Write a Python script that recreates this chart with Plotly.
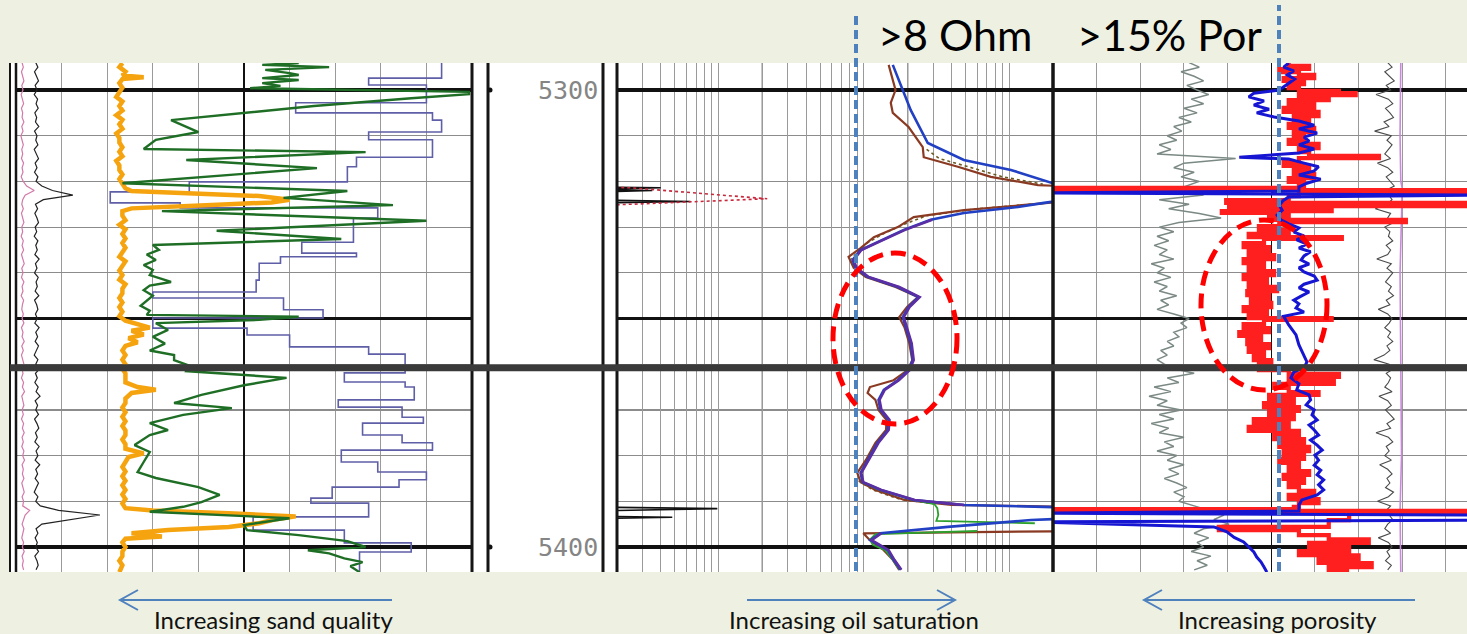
import math
import plotly.graph_objects as go

W, H = 1467, 634


def px(x):
    return x / W


def py(y):
    return 1 - y / H


# ---------------------------------------------------------------- DATA
DEPTH_1FT = list(range(5294, 5406))

# Track 1 (API-like units, 0-150)
pink_val = [2.0, 2.4, 1.8, 2.2, 2.6, 1.9, 2.3, 1.7, 2.1, 2.5,
            1.8, 2.2, 2.0, 2.6, 1.9, 2.3, 1.6, 2.1, 2.4, 1.9,
            2.2, 1.8, 2.5, 2.0, 2.3, 1.7, 2.4, 3.5, 6.0, 3.0,
            2.2, 1.9, 2.4, 1.8, 2.1, 2.6, 1.9, 2.2, 1.7, 2.4,
            2.0, 2.5, 1.8, 2.2, 2.7, 1.9, 2.3, 1.8, 2.6, 2.0,
            2.3, 1.7, 2.5, 2.1, 1.9, 2.4, 2.0, 2.6, 1.8, 2.3,
            2.0, 2.7, 1.9, 2.4, 1.8, 2.2, 2.6, 2.0, 2.3, 1.8,
            2.5, 2.1, 2.8, 1.9, 2.3, 2.6, 2.0, 2.4, 1.8, 2.5,
            2.1, 2.7, 2.0, 2.4, 1.9, 2.6, 2.2, 2.8, 2.0, 2.4,
            2.1, 2.6, 1.9, 2.3, 2.7, 2.0, 2.5, 2.2, 4.5, 3.0,
            2.4, 2.0, 2.6, 2.2, 1.9, 2.5, 2.1, 2.7, 2.0, 2.4,
            2.1, 2.5]

black1_val = [6.5, 7.2, 6.1, 6.8, 7.4, 6.3, 6.9, 6.0, 7.1, 6.6,
              7.3, 6.2, 6.8, 6.4, 7.5, 6.1, 6.9, 6.5, 7.2, 6.0,
              6.8, 7.4, 6.3, 6.9, 6.1, 7.2, 6.6, 8.5, 12.0, 18.7,
              9.0, 6.4, 7.1, 6.2, 6.9, 7.4, 6.3, 6.8, 6.0, 7.2,
              6.5, 7.0, 6.2, 7.6, 6.4, 6.9, 6.1, 7.3, 6.6, 7.0,
              6.3, 7.5, 6.1, 6.8, 7.2, 6.4, 7.0, 6.2, 7.6, 6.5,
              7.1, 6.3, 7.4, 6.6, 6.0, 7.2, 6.5, 7.8, 6.4, 7.0,
              6.2, 7.3, 6.6, 7.9, 6.3, 7.1, 6.5, 7.4, 6.1, 6.9,
              7.5, 6.4, 7.0, 6.2, 7.6, 6.6, 7.2, 6.3, 7.8, 6.5,
              7.1, 6.3, 7.4, 6.7, 6.0, 7.2, 6.5, 8.0, 14.0, 27.6,
              18.0, 8.5, 6.6, 7.2, 6.3, 7.0, 6.5, 7.4, 6.2, 6.9,
              7.3, 6.6]

orange_depth = [5294.1, 5295.0, 5296.0, 5296.8, 5297.2, 5297.6, 5298.5, 5299.5, 5300.5, 5301.5,
                5302.5, 5303.5, 5304.5, 5305.5, 5306.5, 5307.5, 5308.5, 5309.5, 5310.5, 5311.5,
                5312.5, 5313.5, 5314.5, 5315.5, 5316.5, 5317.5, 5318.5, 5319.5, 5320.5, 5321.5,
                5322.1, 5322.6, 5323.2, 5324.0, 5324.6, 5325.0, 5325.5, 5325.9, 5326.5, 5327.5,
                5328.5, 5329.5, 5330.5, 5331.5, 5332.5, 5333.5, 5334.5, 5335.5, 5336.5, 5337.5,
                5338.5, 5339.5, 5340.5, 5341.5, 5342.5, 5343.5, 5344.5, 5345.5, 5346.5, 5347.5,
                5348.5, 5349.5, 5350.5, 5351.3, 5352.0, 5352.7, 5353.5, 5354.3, 5355.2, 5356.0,
                5357.0, 5358.0, 5359.0, 5360.0, 5361.0, 5362.0, 5363.0, 5364.0, 5365.0, 5365.6,
                5366.3, 5367.5, 5368.5, 5369.5, 5370.5, 5371.5, 5372.5, 5373.5, 5374.5, 5375.5,
                5376.5, 5377.5, 5378.5, 5379.5, 5380.3, 5381.5, 5382.5, 5383.5, 5384.5, 5385.5,
                5386.5, 5387.5, 5388.5, 5389.5, 5390.5, 5391.5, 5392.0, 5392.6, 5393.3, 5394.0,
                5394.8, 5395.6, 5396.3, 5397.0, 5397.7, 5398.2, 5399.0, 5400.0, 5401.0, 5402.0,
                5403.0, 5404.0, 5405.5]
orange_val = [35, 34, 36, 35, 42, 35, 34, 35, 34, 33,
              35, 34, 35, 33, 35, 34, 35, 33, 34, 34,
              35, 34, 35, 33, 34, 34, 35, 34, 35, 36,
              38, 60, 80, 90, 84, 70, 50, 38, 35, 35,
              36, 34, 36, 35, 36, 35, 36, 35, 34, 36,
              35, 34, 35, 34, 36, 35, 35, 34, 35, 34,
              35, 34, 36, 40, 44, 38, 42, 37, 40, 36,
              35, 36, 35, 36, 35, 36, 36, 36, 40, 46,
              38, 36, 36, 35, 36, 35, 36, 35, 36, 36,
              35, 36, 36, 42, 37, 36, 35, 36, 35, 36,
              35, 36, 35, 36, 35, 36, 45, 70, 92, 85,
              80, 70, 50, 38, 48, 36, 35, 36, 35, 35,
              34, 35, 34]

green1_depth = [5294.1, 5294.5, 5295.0, 5295.6, 5296.3, 5296.7, 5297.4, 5297.8, 5298.5, 5299.1,
                5299.6, 5300.4, 5300.9, 5301.8, 5303.5, 5305.3, 5306.6, 5309.2, 5310.9, 5312.9,
                5313.6, 5315.3, 5317.1, 5320.4, 5322.1, 5323.6, 5325.2, 5326.5, 5328.6, 5330.8,
                5332.6, 5333.9, 5335.0, 5336.0, 5337.2, 5338.3, 5339.4, 5340.5, 5342.0, 5342.8,
                5343.8, 5345.0, 5346.0, 5347.2, 5348.3, 5349.2, 5349.6, 5350.3, 5351.0, 5352.5,
                5354.0, 5355.5, 5357.0, 5358.0, 5359.1, 5360.3, 5361.5, 5363.0, 5364.6, 5366.7,
                5368.5, 5369.6, 5371.1, 5372.9, 5374.4, 5375.5, 5377.7, 5379.2, 5381.4, 5383.6,
                5384.9, 5386.9, 5388.6, 5390.2, 5391.2, 5392.3, 5393.7, 5395.2, 5396.3, 5397.4,
                5398.7, 5400.0, 5400.7, 5401.4, 5402.5, 5403.3, 5404.2, 5405.5]
green1_val = [93, 81, 103, 82, 90, 93, 81, 93, 81, 87,
              77, 149, 149, 130, 98, 71, 51, 60, 46, 42,
              115, 56, 99, 35, 109, 88, 124, 48, 135, 66,
              107, 45, 47, 43, 46, 42, 45, 44, 51, 44,
              42, 45, 43, 41, 44, 43, 93, 80, 46, 50,
              45, 49, 44, 52, 52, 57, 56, 89, 75, 61,
              52, 71, 55, 44, 50, 44, 39, 44, 42, 40,
              46, 60, 67, 61, 55, 44, 90, 75, 76, 93,
              109, 115, 96, 103, 108, 114, 110, 113]

# blocky (step) curve: interval tops and values
step_top = [5294.1, 5297.4, 5298.9, 5302.8, 5305.0, 5306.6, 5309.2, 5310.9, 5314.7, 5316.8,
            5320.1, 5322.3, 5324.7, 5325.8, 5328.0, 5333.3, 5335.7, 5336.5, 5337.9, 5341.6,
            5344.2, 5345.5, 5348.1, 5349.9, 5352.1, 5353.6, 5356.2, 5357.8, 5361.9, 5363.9,
            5365.0, 5367.8, 5369.4, 5371.6, 5372.9, 5375.5, 5377.2, 5378.8, 5381.4, 5383.6,
            5385.3, 5386.9, 5389.3, 5390.4, 5393.4, 5396.3, 5399.1, 5401.1, 5405.5]
step_val = [140, 116, 135, 92, 137, 140, 116, 137, 112, 109,
            57, 31, 54, 119, 111, 94, 112, 87, 80, 79,
            45, 88, 101, 45, 76, 90, 116, 128, 108, 128,
            131, 106, 127, 134, 114, 127, 137, 107, 119, 135,
            126, 104, 97, 116, 78, 108, 130, 113, 113]

# Track 2 (resistivity, ohm-m, log 0.2-200)
blue2_depth = [5294.5, 5300.0, 5304.4, 5311.6, 5315.3, 5317.5, 5320.4, 5321.5, 5323.0, 5324.7,
               5325.6, 5326.9, 5328.4, 5330.6, 5333.3, 5335.0, 5337.2, 5338.9, 5340.9, 5343.1,
               5345.3, 5347.5, 5349.7, 5351.9, 5355.4, 5359.1, 5361.3, 5363.5, 5365.6, 5367.8,
               5370.0, 5372.2, 5374.4, 5377.2, 5381.0, 5383.8, 5385.8, 5387.5, 5389.7, 5390.8,
               5391.5, 5393.5, 5394.1, 5395.6, 5397.0, 5398.5, 5400.7, 5402.8, 5405.0]
blue2_val = [15.8, 18.5, 21.0, 27.5, 48.7, 102.6, 200, 400, 400, 173.5,
             114.8, 48.7, 28.8, 18.8, 12.4, 9.48, 8.35, 8.76, 10.6, 17.1,
             23.8, 20.3, 18.5, 19.4, 21.0, 21.7, 20.3, 17.1, 13.7, 12.6,
             13.0, 14.8, 14.6, 12.4, 10.6, 9.48, 9.79, 13.0, 22.0, 48.7,
             400, 400, 141, 37.8, 13.0, 11.1, 14.6, 16.0, 17.9]

brown2_depth = [5294.5, 5300.0, 5302.8, 5305.0, 5308.1, 5312.5, 5314.7, 5316.8, 5319.0, 5320.8,
                5321.4, 5323.5, 5324.7, 5326.3, 5327.8, 5330.0, 5332.2, 5334.6, 5336.5, 5338.9,
                5340.9, 5343.1, 5345.3, 5347.5, 5349.7, 5351.9, 5355.4, 5359.1, 5361.3, 5363.5,
                5365.0, 5366.3, 5367.8, 5370.0, 5372.2, 5374.4, 5377.2, 5381.0, 5383.8, 5385.8,
                5387.5, 5389.7, 5390.8, 5391.3, 5396.5, 5397.0, 5398.5, 5400.7, 5402.8, 5405.0]
brown2_val = [14.8, 16.5, 15.3, 15.8, 20.3, 25.4, 25.8, 44.3, 74.7, 157.7,
              400, 400, 184.9, 48.7, 22.0, 17.1, 11.7, 9.48, 7.84, 8.5,
              10.3, 16.5, 23.5, 19.8, 17.5, 19.0, 20.5, 21.5, 20.0, 16.0,
              11.0, 10.6, 12.0, 12.6, 14.3, 14.2, 12.0, 10.3, 9.0, 9.5,
              12.0, 19.0, 40.0, 400, 300, 9.9, 11.0, 13.7, 15.8, 17.5]

purple2_depth = [5328.4, 5330.6, 5333.3, 5335.0, 5337.2, 5338.9, 5340.9, 5343.1, 5345.3, 5347.5,
                 5349.7, 5351.9, 5355.4, 5359.1, 5361.3, 5363.5, 5365.6, 5367.8, 5370.0, 5372.2,
                 5374.4, 5377.2, 5381.0, 5383.8, 5385.8, 5387.5, 5389.7, 5390.8, None, 5397.0,
                 5398.5, 5400.7, 5402.8, 5405.0]
purple2_val = [29.5, 19.2, 12.6, 9.6, 8.5, 8.9, 10.8, 17.5, 24.2, 20.6,
               18.8, 19.7, 21.3, 22.0, 20.6, 17.4, 13.9, 12.8, 13.2, 15.0,
               14.8, 12.6, 10.8, 9.6, 9.9, 13.2, 22.4, 49.0, None, 13.2,
               11.3, 14.8, 16.2, 18.1]

green2_depth = [5385.8, 5387.5, 5389.7, 5390.6, 5391.5, 5393.0, 5394.3, 5394.8, None, 5396.5,
                5397.2, 5398.4, 5399.5, 5399.9, 5400.7, 5402.8, 5405.0]
green2_val = [9.7, 12.8, 21.5, 30.5, 32.0, 32.5, 31.5, 150, None, 60,
              12.0, 11.0, 11.5, 12.2, 14.0, 15.8, 17.6]

dotted2_depth = [5313.0, 5315.0, 5317.0, 5319.0, 5320.6, None, 5324.8, 5326.0, 5327.5, 5329.5,
                 5331.5, 5333.5, 5335.5, 5337.0, None, 5385.5, 5387.5, 5389.5, 5390.5]
dotted2_val = [27, 33, 55, 90, 170, None, 170, 60, 27, 18.5,
               13.5, 10.5, 9.0, 8.2, None, 9.2, 11.5, 17.5, 30]

# shallow curve, off-scale except for two spikes
micro_depth = [5294.0, 5321.2, 5321.4, 5321.8, 5322.0, 5322.4, 5324.0, 5324.4, 5324.8, 5391.2,
               5391.6, 5392.2, 5393.2, 5393.5, 5393.9, 5406.0]
micro_val = [0.1, 0.1, 0.40, 0.12, 0.35, 0.1, 0.1, 0.64, 0.1, 0.1,
             0.98, 0.1, 0.1, 0.48, 0.1, 0.1]
reddot_depth = [5321.0, 5321.4, 5323.8, 5325.0, 5325.5]
reddot_val = [0.1, 0.25, 2.16, 0.15, 0.1]

# Track 3 (porosity, %, 45 -> -12)
gray3_val = [26.3, 24.9, 27.4, 25.6, 24.3, 26.6, 25.2, 23.6, 26.0, 24.3,
             27.0, 25.2, 27.7, 26.0, 28.4, 27.3, 29.3, 28.0, 30.4, 28.8,
             30.7, 19.9, 27.0, 28.4, 25.6, 27.4, 24.9, 26.6, 28.4, 24.3,
             30.4, 26.3, 29.1, 24.9, 21.9, 27.7, 30.4, 28.4, 30.7, 29.1,
             31.1, 29.3, 30.4, 28.4, 31.5, 29.7, 30.7, 28.8, 31.1, 29.3,
             30.4, 28.0, 30.2, 29.1, 30.7, 28.4, 26.3, 27.4, 26.6, 28.4,
             27.7, 29.3, 28.4, 30.2, 29.3, 30.7, 29.7, 28.4, 25.6, 29.3,
             27.7, 31.1, 28.8, 31.8, 29.3, 30.7, 27.4, 30.4, 28.4, 31.5,
             29.1, 30.4, 27.0, 29.7, 28.4, 30.7, 28.0, 29.3, 27.0, 29.1,
             27.7, 29.7, 28.0, 26.6, 28.4, 27.0, 27.7, 25.6, 23.6, 21.5,
             22.9, 20.8, 24.3, 25.6, 23.6, 25.2, 24.3, 26.0, 23.3, 25.2,
             23.8, 25.6]

pe3_val = [-1.0, -1.6, -0.6, -1.3, -1.9, -0.8, -1.4, 0.6, -1.1, -1.7,
           -0.7, -1.3, -1.8, -0.5, -1.2, 0.8, -1.5, -0.9, -1.6, -1.1,
           -0.6, -1.4, 0.4, -1.0, -1.7, -0.8, -1.3, -1.9, -0.7, -1.2,
           -1.6, -0.9, 0.7, -1.4, -1.0, -1.8, -0.6, -1.3, -1.1, -1.7,
           -0.8, -1.4, -1.0, 0.5, -1.5, -0.9, -1.7, -1.2, -0.7, -1.5,
           -1.1, -1.8, -0.8, -1.3, 0.3, -1.0, -1.6, -1.2, -0.6, -1.4,
           -1.0, -1.7, -0.9, -1.3, -0.5, 0.9, -1.2, -1.8, -0.8, -1.4,
           -1.1, -0.6, -1.6, 0.2, -1.0, -1.5, -0.7, -1.3, -1.9, -0.9,
           -1.4, 0.6, -1.1, -1.7, -0.8, -1.2, -0.6, -1.5, 0.1, -1.0,
           -1.6, -0.9, -1.3, -0.7, -1.8, -1.1, 0.4, -1.4, -0.8, -1.2,
           -1.7, -1.0, -0.6, -1.4, 0.3, -1.1, -1.6, -0.9, -1.3, -0.7,
           -1.5, -1.0]

violet3_depth = [5294.0, 5310.0, 5320.0, 5321.5, 5340.0, 5360.0, 5380.0, 5392.0, 5405.5]
violet3_val = [-2.8, -2.7, -2.8, -3.0, -2.7, -2.8, -2.9, -2.7, -2.8]

red3_depth = [5294.1, 5294.7, 5295.4, 5296.1, 5296.7, 5297.4, 5298.0, 5298.7, 5299.6, 5300.2,
              5300.7, 5301.1, 5301.8, 5302.2, 5303.1, 5303.9, 5304.8, 5305.7, 5306.6, 5307.4,
              5308.3, 5309.2, 5310.1, 5310.9, 5311.8, 5312.7, 5313.6, 5314.4, 5314.9, 5315.8,
              5316.6, 5317.5, 5318.4, 5319.3, 5320.1, 5321.0, 5321.4, 5321.9, 5322.3, 5323.2,
              5324.1, 5324.7, 5325.4, 5326.0, 5326.5, 5326.9, 5327.8, 5328.4, 5328.9, 5329.8,
              5330.6, 5331.5, 5332.2, 5332.6, 5333.5, 5334.4, 5335.2, 5336.1, 5337.0, 5337.9,
              5338.7, 5339.6, 5340.5, 5341.4, 5342.2, 5343.1, 5344.0, 5344.9, 5345.7, 5346.6,
              5347.5, 5348.4, 5349.2, 5349.9, 5350.3, 5351.2, 5352.1, 5353.0, 5353.8, 5354.7,
              5355.6, 5356.5, 5357.3, 5358.2, 5359.1, 5360.0, 5361.3, 5362.1, 5362.8, 5363.7,
              5364.3, 5365.2, 5366.1, 5366.7, 5367.6, 5368.5, 5369.4, 5370.2, 5371.1, 5372.0,
              5372.9, 5373.7, 5374.6, 5375.5, 5376.4, 5377.2, 5378.1, 5379.0, 5379.9, 5380.7,
              5381.6, 5382.5, 5383.4, 5384.2, 5385.1, 5386.0, 5386.9, 5387.7, 5388.6, 5389.5,
              5390.4, 5391.2, 5391.7, 5392.1, 5392.6, 5394.1, 5395.6, 5396.3, 5397.4, 5398.3,
              5399.1, 5400.0, 5400.9, 5401.8, 5402.6, 5403.5, 5404.4, 5405.3]
red3_val = [12.6, 9.8, 13.9, 11.2, 9.1, 13.3, 10.5, 12.6, 11.2, 5.7,
            3.4, 11.2, 7.1, 12.6, 9.1, 13.3, 8.5, 11.9, 9.8, 12.6,
            9.1, 11.9, 10.5, 12.6, 8.5, 11.2, 9.8, 0.2, 11.2, 13.3,
            9.8, 11.9, 9.1, 12.6, 10.5, 11.2, 48, -15, 11.2, 12.6,
            21.2, -15, 20.8, 6.7, 21.8, 12.6, 15.3, -3.5, 13.9, 16.7,
            12.6, 18.1, 5.3, 16.0, 18.8, 15.3, 18.1, 14.6, 18.8, 16.0,
            18.1, 14.6, 18.8, 15.6, 18.1, 14.2, 18.3, 15.3, 17.8, 15.0,
            18.8, 15.6, 18.1, 6.7, 16.0, 18.8, 15.3, 19.4, 16.4, 18.3,
            15.3, 18.1, 16.0, 17.4, 15.0, 16.7, 12.6, 5.7, 12.6, 6.4,
            14.6, 12.6, 8.5, 15.3, 11.9, 16.0, 11.2, 15.3, 11.9, 17.4,
            12.6, 18.1, 11.2, 14.6, 10.5, 13.9, 9.8, 13.3, 10.5, 13.9,
            11.2, 12.6, 9.8, 13.3, 10.5, 12.6, 11.2, 9.1, 12.6, 8.5,
            11.2, 11.9, 48, -15, 4.3, 7.1, 22.2, 11.2, 7.1, 1.6,
            9.8, 4.3, 11.2, 3.0, 8.5, 1.2, 7.1, 4.3]

blue3_depth = [5294.1, 5295.0, 5295.8, 5296.7, 5297.6, 5298.5, 5299.3, 5300.0, 5300.7, 5301.5,
               5302.4, 5303.3, 5304.2, 5305.0, 5305.9, 5306.8, 5307.7, 5308.5, 5309.4, 5310.3,
               5311.2, 5312.0, 5312.9, 5313.8, 5314.7, 5315.1, 5316.0, 5316.8, 5317.7, 5318.6,
               5319.5, 5320.4, 5321.2, 5322.1, 5322.5, 5323.0, 5323.4, 5324.1, 5325.2, 5326.3,
               5327.4, 5328.4, 5329.3, 5330.2, 5331.1, 5331.9, 5332.8, 5333.7, 5334.6, 5335.4,
               5336.3, 5337.2, 5338.1, 5338.9, 5339.8, 5340.7, 5341.6, 5342.5, 5343.3, 5344.2,
               5345.1, 5346.0, 5346.8, 5347.7, 5348.6, 5349.5, 5351.4, 5353.6, 5355.8, 5358.0,
               5359.5, 5360.8, 5361.7, 5363.0, 5364.3, 5365.6, 5366.7, 5367.8, 5368.9, 5370.0,
               5371.1, 5372.2, 5373.3, 5374.4, 5375.5, 5376.6, 5377.7, 5378.8, 5379.9, 5381.0,
               5382.1, 5383.2, 5384.2, 5385.3, 5386.4, 5387.5, 5388.6, 5389.7, 5390.8, 5392.1,
               5392.6, 5393.0, 5394.1, 5394.5, 5395.6, 5396.7, 5397.9, 5398.9, 5400.0, 5401.1,
               5402.2, 5403.3, 5404.4, 5405.5]
blue3_val = [12.6, 13.3, 11.9, 12.8, 11.8, 12.6, 13.3, 13.9, 17.4, 18.1,
             16.0, 17.4, 15.3, 17.0, 14.6, 11.2, 9.1, 11.2, 8.7, 10.5,
             9.8, 11.2, 9.1, 11.2, 19.4, 12.6, 10.5, 8.5, 9.1, 11.2,
             8.2, 10.1, 11.2, 11.2, 48, -15, 12.6, 13.3, 13.9, 13.5,
             14.2, 13.7, 12.6, 11.2, 11.9, 10.5, 11.5, 10.1, 11.2, 9.6,
             10.5, 10.9, 9.8, 11.2, 10.5, 9.1, 8.7, 10.5, 11.2, 9.8,
             10.9, 11.9, 11.2, 11.6, 10.5, 13.3, 12.6, 11.6, 11.2, 10.5,
             10.1, 10.5, 11.9, 12.3, 11.2, 11.5, 9.8, 9.6, 10.2, 9.1,
             9.4, 8.7, 9.8, 9.1, 8.5, 9.6, 8.7, 8.0, 9.0, 8.5,
             9.1, 8.2, 8.7, 7.8, 8.5, 7.8, 8.7, 10.8, 11.2, 11.2,
             48, -15, -15, 48, 22.9, 21.1, 20.1, 18.8, 18.1, 17.4,
             17.0, 16.4, 16.0, 15.6]

# ---------------------------------------------------------------- FIGURE
fig = go.Figure()


def add(x, y, axis, color, width, dash=None, shape=None):
    line = dict(color=color, width=width)
    if dash:
        line["dash"] = dash
    if shape:
        line["shape"] = shape
    fig.add_trace(go.Scatter(x=x, y=y, xaxis=axis, yaxis="y", mode="lines",
                             line=line, hoverinfo="skip", showlegend=False,
                             connectgaps=False))


# track 1
add(pink_val, DEPTH_1FT, "x", "#d27aa8", 1.2)
add(black1_val, DEPTH_1FT, "x", "#222222", 1.2)
add(step_val, step_top, "x", "#5f5fa8", 1.6, shape="vh")
add(orange_val, orange_depth, "x", "#f5a40f", 4.5)
add(green1_val, green1_depth, "x", "#1f6e25", 2.4)

# track 2
add(micro_val, micro_depth, "x2", "#111111", 1.6)
add(reddot_val, reddot_depth, "x2", "#c8283c", 1.6, dash="dot")
add(dotted2_val, dotted2_depth, "x2", "#6b5a1f", 1.6, dash="dot")
add(brown2_val, brown2_depth, "x2", "#8a3a22", 2.2)
add(green2_val, green2_depth, "x2", "#2ca02c", 1.8)
add(blue2_val, blue2_depth, "x2", "#2140c4", 2.6)
add(purple2_val, purple2_depth, "x2", "#5b2ea3", 2.6)

# track 3
add(gray3_val, DEPTH_1FT, "x3", "#7b8985", 1.5)
add(pe3_val, DEPTH_1FT, "x3", "#4a4a4a", 1.1)
add(violet3_val, violet3_depth, "x3", "#c88ad8", 1.6)
add(red3_val, red3_depth, "x3", "#ff1f1f", 4.2, shape="vh")
add(blue3_val, blue3_depth, "x3", "#1515d2", 3.0)

common_x = dict(showticklabels=False, ticks="", zeroline=False, showline=False,
                anchor="y", fixedrange=True)

fig.update_layout(
    width=W, height=H,
    margin=dict(l=0, r=0, t=0, b=0),
    paper_bgcolor="#eef1e2",
    plot_bgcolor="rgba(0,0,0,0)",
    showlegend=False,
    xaxis=dict(domain=[px(16), px(472)], range=[0, 150], dtick=75, tick0=0,
               showgrid=True, gridcolor="#111111", gridwidth=1.4,
               minor=dict(dtick=15, tick0=0, showgrid=True, gridcolor="#9a9a9a",
                          gridwidth=1, ticks=""),
               **common_x),
    xaxis2=dict(domain=[px(617), px(1053)], type="log",
                range=[math.log10(0.2), math.log10(200)], dtick="D1",
                showgrid=True, gridcolor="#9a9a9a", gridwidth=1, **common_x),
    xaxis3=dict(domain=[px(1053), 1.0], range=[45, -11.9], dtick=30, tick0=15,
                showgrid=True, gridcolor="#111111", gridwidth=1.4,
                minor=dict(dtick=6, tick0=15, showgrid=True, gridcolor="#9a9a9a",
                           gridwidth=1, ticks=""),
                **common_x),
    yaxis=dict(domain=[py(572), py(63)], range=[5405.47, 5294.09], anchor="x",
               dtick=50, tick0=5300, showgrid=True, gridcolor="#111111", gridwidth=3.5,
               minor=dict(dtick=10, tick0=5300, showgrid=True, gridcolor="#8c8c8c",
                          gridwidth=1.2, ticks=""),
               showticklabels=False, ticks="", zeroline=False, showline=False,
               fixedrange=True),
)

shapes = []
# white log paper
shapes.append(dict(type="rect", xref="paper", yref="paper", x0=px(9), x1=1.0,
                   y0=py(572), y1=py(63), fillcolor="white", line=dict(width=0),
                   layer="below"))
# darker decade lines on the resistivity track
for f in (1 / 3, 2 / 3):
    shapes.append(dict(type="line", xref="x2 domain", yref="y domain", x0=f, x1=f,
                       y0=0, y1=1, line=dict(color="#555555", width=1.3), layer="below"))
# track borders
for xb, wb in ((10, 2), (16, 2.5), (472, 3), (488, 3), (603, 3), (617, 3), (1053, 3.5)):
    shapes.append(dict(type="line", xref="paper", yref="paper", x0=px(xb), x1=px(xb),
                       y0=py(572), y1=py(63), line=dict(color="#151515", width=wb)))
# formation marker
shapes.append(dict(type="line", xref="paper", yref="y", x0=px(10), x1=1.0,
                   y0=5360.8, y1=5360.8, line=dict(color="#3a3a3a", width=7)))
# depth-track dots
for yy in (90, 547):
    shapes.append(dict(type="circle", xref="paper", yref="paper",
                       x0=px(487.5), x1=px(492.5), y0=py(yy + 2.5), y1=py(yy - 2.5),
                       fillcolor="#111111", line=dict(width=0)))
# cutoff lines
for xc, yt in ((856, 12), (1279, 5)):
    shapes.append(dict(type="line", xref="paper", yref="paper", x0=px(xc), x1=px(xc),
                       y0=py(571), y1=py(yt),
                       line=dict(color="#4f81bd", width=4, dash="9px,5px")))
# highlight ellipses
for x0, x1, y0, y1 in ((833, 957, 253, 424), (1201, 1327, 220, 390)):
    shapes.append(dict(type="circle", xref="paper", yref="paper",
                       x0=px(x0), x1=px(x1), y0=py(y1), y1=py(y0),
                       line=dict(color="#ff0000", width=5, dash="15px,8px")))


def arrow(x_tail, x_head, y):
    s = 1 if x_head < x_tail else -1
    hx = x_head + s * 18
    return (f"M {px(x_tail)},{py(y)} L {px(x_head)},{py(y)} "
            f"M {px(hx)},{py(y - 10)} L {px(x_head)},{py(y)} L {px(hx)},{py(y + 10)}")


for xt, xh in ((392, 120), (747, 955), (1415, 1144)):
    shapes.append(dict(type="path", xref="paper", yref="paper", path=arrow(xt, xh, 600),
                       line=dict(color="#4f81bd", width=2)))

fig.update_layout(shapes=shapes)

ann = []
for txt, xl in ((">8 Ohm", 876), (">15% Por", 1075)):
    ann.append(dict(text=txt, xref="paper", yref="paper", x=px(xl), y=py(35),
                    xanchor="left", yanchor="middle", showarrow=False,
                    font=dict(family="Lato", size=43, color="#000000")))
for txt, xc in (("Increasing sand quality", 273.5), ("Increasing oil saturation", 854),
                ("Increasing porosity", 1277)):
    ann.append(dict(text=txt, xref="paper", yref="paper", x=px(xc), y=py(619),
                    xanchor="center", yanchor="middle", showarrow=False,
                    font=dict(family="Lato", size=24, color="#111111")))
for d in (5300, 5400):
    ann.append(dict(text=str(d), xref="paper", yref="y", x=px(600), y=d,
                    xanchor="right", yanchor="middle", showarrow=False,
                    font=dict(family="DejaVu Sans Mono", size=25, color="#858585")))
fig.update_layout(annotations=ann)

fig.write_html("out.html", config={"displayModeBar": False, "staticPlot": True},
               post_script="document.body.style.margin='0px';")
